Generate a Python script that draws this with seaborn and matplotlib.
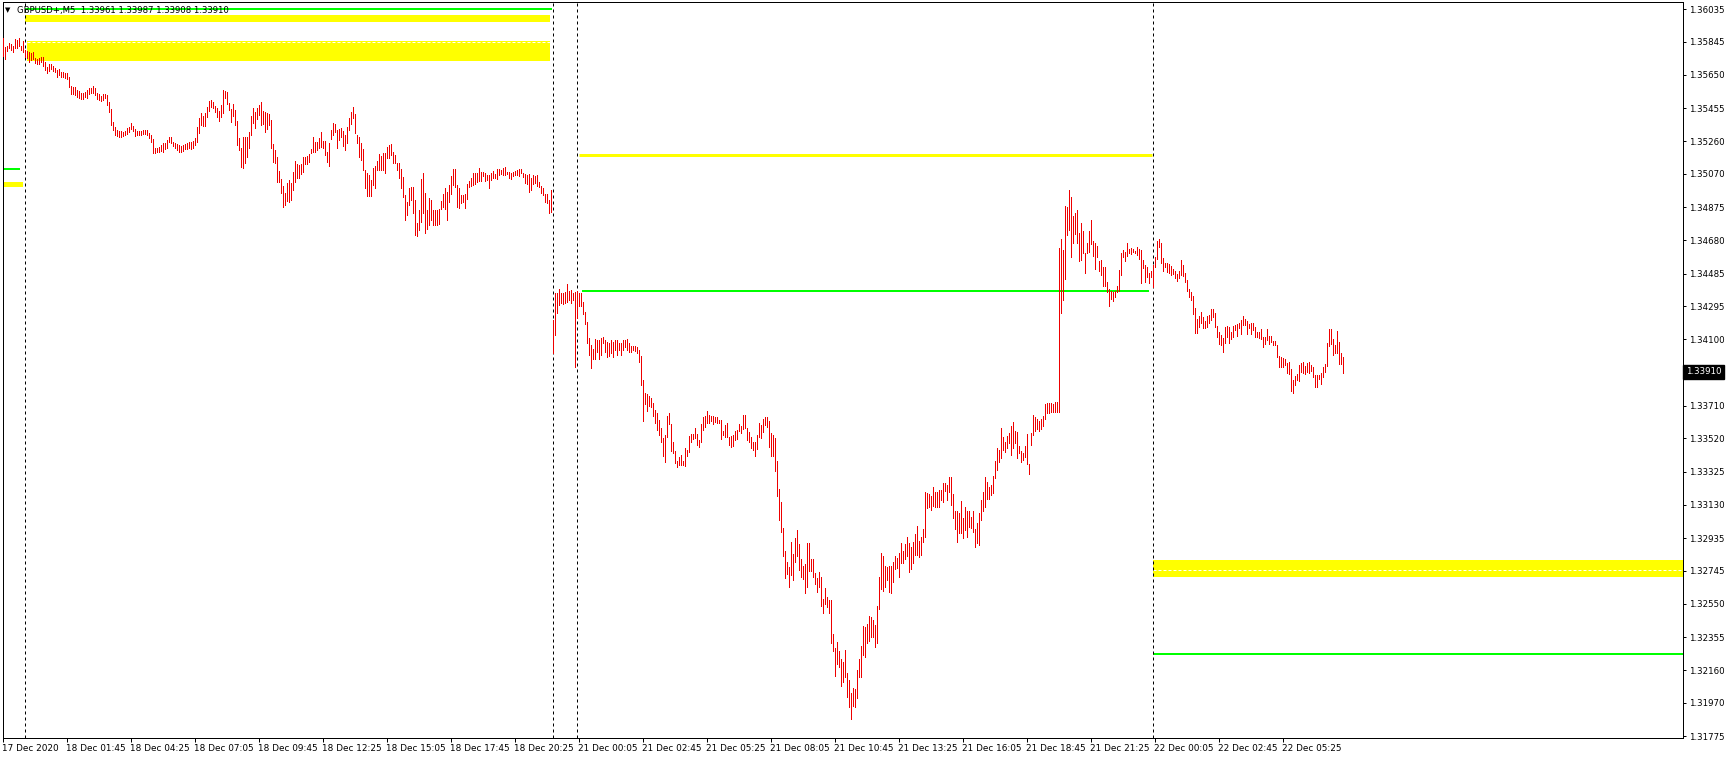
import numpy as np
import pandas as pd
import matplotlib
matplotlib.use("Agg")
import matplotlib.pyplot as plt
import seaborn as sns
from matplotlib.ticker import FixedLocator
import matplotlib.transforms as mtransforms

sns.set_theme(style="white")
plt.rcParams['font.family'] = ['DejaVu Sans']
plt.rcParams['lines.scale_dashes'] = False

# ---------------- data (M5 bars: high / low) ----------------
pre_high = [1.35864,1.35816,1.35821,1.35835,1.35829,1.35821,1.35860,1.35855,1.35864,1.35821,1.35849]
pre_low = [1.35763,1.35741,1.35790,1.35806,1.35796,1.35782,1.35810,1.35806,1.35821,1.35796,1.35786]

fri_high = [1.35796,1.35790,1.35782,1.35776,1.35782,1.35747,1.35741,1.35747,1.35755,1.35757,
1.35728,1.35698,1.35712,1.35712,1.35704,1.35689,1.35679,1.35683,1.35665,1.35665,
1.35659,1.35659,1.35640,1.35585,1.35581,1.35581,1.35562,1.35556,1.35542,1.35542,
1.35548,1.35562,1.35571,1.35571,1.35585,1.35575,1.35542,1.35536,1.35528,1.35536,
1.35536,1.35532,1.35493,1.35450,1.35372,1.35347,1.35327,1.35321,1.35321,1.35317,
1.35321,1.35337,1.35347,1.35366,1.35353,1.35333,1.35321,1.35321,1.35321,1.35327,
1.35327,1.35327,1.35308,1.35298,1.35274,1.35220,1.35224,1.35230,1.35239,1.35249,
1.35249,1.35269,1.35288,1.35288,1.35259,1.35249,1.35243,1.35239,1.35235,1.35239,
1.35243,1.35249,1.35259,1.35259,1.35263,1.35278,1.35347,1.35396,1.35425,1.35411,
1.35425,1.35464,1.35497,1.35503,1.35489,1.35470,1.35458,1.35439,1.35474,1.35562,
1.35556,1.35552,1.35484,1.35450,1.35478,1.35444,1.35380,1.35278,1.35220,1.35288,
1.35288,1.35288,1.35317,1.35411,1.35458,1.35431,1.35458,1.35474,1.35489,1.35439,
1.35435,1.35425,1.35419,1.35386,1.35243,1.35210,1.35171,1.35087,1.35040,1.35001,
1.34956,1.35015,1.35034,1.35015,1.35083,1.35146,1.35126,1.35122,1.35126,1.35171,
1.35171,1.35177,1.35185,1.35216,1.35288,1.35255,1.35255,1.35282,1.35314,1.35263,
1.35263,1.35196,1.35249,1.35327,1.35366,1.35360,1.35327,1.35333,1.35337,1.35323,
1.35298,1.35347,1.35400,1.35430,1.35462,1.35420,1.35298,1.35288,1.35249,1.35214,
1.35093,1.35077,1.35064,1.35034,1.35103,1.35116,1.35148,1.35187,1.35175,1.35191,
1.35191,1.35230,1.35239,1.35245,1.35200,1.35181,1.35136,1.35132,1.35097,1.35054,
1.34946,1.34907,1.34985,1.34995,1.34995,1.34917,1.34784,1.34858,1.35038,1.35073,
1.34956,1.34858,1.34927,1.34917,1.34858,1.34858,1.34858,1.34862,1.34913,1.34952,
1.34985,1.34966,1.35005,1.35058,1.35097,1.35097,1.35005,1.34985,1.34946,1.34946,
1.34952,1.35011,1.35030,1.35044,1.35073,1.35073,1.35073,1.35103,1.35083,1.35083,
1.35077,1.35064,1.35064,1.35073,1.35089,1.35069,1.35097,1.35097,1.35093,1.35103,
1.35109,1.35083,1.35083,1.35077,1.35083,1.35089,1.35093,1.35097,1.35097,1.35077,
1.35069,1.35064,1.35069,1.35044,1.35064,1.35058,1.35064,1.35024,1.34999,1.34985,
1.34952,1.34952,1.34917,1.34976]
fri_low = [1.35757,1.35747,1.35724,1.35737,1.35743,1.35718,1.35712,1.35712,1.35724,1.35704,
1.35679,1.35659,1.35673,1.35685,1.35673,1.35665,1.35640,1.35650,1.35636,1.35640,
1.35630,1.35624,1.35581,1.35536,1.35536,1.35532,1.35523,1.35517,1.35509,1.35509,
1.35523,1.35513,1.35536,1.35542,1.35542,1.35532,1.35509,1.35503,1.35497,1.35503,
1.35513,1.35474,1.35435,1.35357,1.35327,1.35298,1.35294,1.35288,1.35288,1.35294,
1.35298,1.35302,1.35314,1.35333,1.35321,1.35294,1.35298,1.35298,1.35298,1.35302,
1.35302,1.35298,1.35278,1.35259,1.35190,1.35190,1.35196,1.35200,1.35204,1.35200,
1.35216,1.35220,1.35255,1.35249,1.35235,1.35224,1.35210,1.35196,1.35196,1.35204,
1.35216,1.35216,1.35224,1.35216,1.35220,1.35239,1.35259,1.35308,1.35357,1.35353,
1.35353,1.35405,1.35439,1.35464,1.35454,1.35435,1.35405,1.35380,1.35405,1.35425,
1.35517,1.35478,1.35444,1.35376,1.35411,1.35357,1.35239,1.35210,1.35112,1.35106,
1.35132,1.35171,1.35220,1.35298,1.35366,1.35337,1.35392,1.35415,1.35357,1.35360,
1.35314,1.35333,1.35357,1.35220,1.35138,1.35132,1.35024,1.35024,1.34956,1.34878,
1.34888,1.34911,1.34907,1.34917,1.34976,1.35024,1.35044,1.35048,1.35067,1.35083,
1.35126,1.35126,1.35142,1.35190,1.35200,1.35196,1.35210,1.35224,1.35230,1.35220,
1.35181,1.35142,1.35118,1.35274,1.35298,1.35317,1.35224,1.35269,1.35288,1.35233,
1.35210,1.35249,1.35327,1.35360,1.35395,1.35310,1.35249,1.35171,1.35151,1.35093,
1.34985,1.34940,1.34940,1.34940,1.35005,1.34985,1.35093,1.35093,1.35093,1.35093,
1.35077,1.35161,1.35161,1.35181,1.35132,1.35132,1.35093,1.35044,1.34985,1.34933,
1.34800,1.34829,1.34888,1.34917,1.34839,1.34712,1.34706,1.34741,1.34790,1.34839,
1.34726,1.34745,1.34771,1.34800,1.34771,1.34771,1.34771,1.34776,1.34862,1.34874,
1.34862,1.34800,1.34907,1.34952,1.35005,1.34995,1.34874,1.34868,1.34901,1.34907,
1.34868,1.34921,1.34991,1.34999,1.35005,1.35011,1.35024,1.35030,1.35030,1.35058,
1.35030,1.35034,1.34985,1.35034,1.35044,1.35044,1.35038,1.35064,1.35069,1.35064,
1.35064,1.35069,1.35044,1.35038,1.35058,1.35064,1.35064,1.35058,1.35073,1.35050,
1.35015,1.35011,1.34966,1.34976,1.35011,1.35019,1.34999,1.34995,1.34960,1.34946,
1.34907,1.34901,1.34843,1.34849]

sun_high = [1.34214,1.34374,1.34374,1.34393,1.34370,1.34374,1.34380,1.34425,1.34386,1.34390,1.34370,1.34380]
sun_low = [1.34022,1.34126,1.34253,1.34302,1.34315,1.34308,1.34315,1.34321,1.34331,1.34315,1.34331,1.33940]

mon_high = [1.34386,1.34370,1.34374,1.34321,1.34263,1.34204,1.34107,1.34067,1.34042,1.34101,
1.34097,1.34097,1.34107,1.34116,1.34097,1.34087,1.34077,1.34097,1.34087,1.34097,
1.34097,1.34077,1.34077,1.34097,1.34097,1.34101,1.34081,1.34061,1.34061,1.34061,
1.34053,1.34038,1.34003,1.33862,1.33784,1.33780,1.33768,1.33755,1.33726,1.33686,
1.33667,1.33628,1.33579,1.33520,1.33540,1.33651,1.33667,1.33604,1.33501,1.33448,
1.33390,1.33409,1.33423,1.33390,1.33462,1.33452,1.33534,1.33546,1.33546,1.33579,
1.33546,1.33511,1.33604,1.33647,1.33651,1.33683,1.33657,1.33651,1.33651,1.33647,
1.33643,1.33628,1.33628,1.33565,1.33598,1.33608,1.33530,1.33534,1.33540,1.33565,
1.33569,1.33604,1.33593,1.33657,1.33657,1.33579,1.33559,1.33526,1.33501,1.33501,
1.33540,1.33608,1.33598,1.33632,1.33643,1.33643,1.33624,1.33550,1.33540,1.33520,
1.33390,1.33222,1.33149,1.32993,1.32862,1.32798,1.32768,1.32915,1.32843,1.32934,
1.32983,1.32901,1.32811,1.32772,1.32784,1.32905,1.32905,1.32811,1.32811,1.32733,
1.32700,1.32739,1.32710,1.32577,1.32641,1.32593,1.32573,1.32573,1.32374,1.32290,
1.32329,1.32276,1.32225,1.32212,1.32280,1.32143,1.32104,1.32030,1.32055,1.32050,
1.32163,1.32225,1.32303,1.32421,1.32413,1.32432,1.32479,1.32471,1.32456,1.32427,
1.32538,1.32710,1.32850,1.32831,1.32772,1.32768,1.32772,1.32772,1.32798,1.32831,
1.32817,1.32850,1.32909,1.32862,1.32901,1.32944,1.32909,1.32885,1.32915,1.32960,
1.33007,1.32921,1.32944,1.32987,1.33208,1.33198,1.33194,1.33182,1.33233,1.33208,
1.33208,1.33218,1.33218,1.33261,1.33261,1.33247,1.33296,1.33292,1.33194,1.33096,
1.33096,1.33085,1.33155,1.33052,1.33120,1.33096,1.33096,1.33057,1.33096,1.32987,
1.33026,1.33085,1.33159,1.33208,1.33292,1.33266,1.33237,1.33247,1.33300,1.33390,
1.33462,1.33452,1.33579,1.33530,1.33501,1.33534,1.33554,1.33593,1.33618,1.33565,
1.33559,1.33475,1.33448,1.33436,1.33475,1.33546,1.33370,1.33550,1.33657,1.33643,
1.33632,1.33624,1.33632,1.33651,1.33722,1.33729,1.33725,1.33729,1.33722,1.33735,
1.33735,1.34634,1.34687,1.34624,1.34882,1.34878,1.34976,1.34937,1.34823,1.34839,
1.34858,1.34726,1.34780,1.34737,1.34604,1.34667,1.34737,1.34800,1.34679,1.34663,
1.34647,1.34562,1.34565,1.34522,1.34526,1.34438,1.34394,1.34386,1.34380,1.34386,
1.34413,1.34507,1.34608,1.34624,1.34614,1.34667,1.34628,1.34634,1.34628,1.34620,
1.34640,1.34628,1.34624,1.34565,1.34536,1.34526,1.34491,1.34503]
mon_low = [1.34224,1.34296,1.34296,1.34249,1.34190,1.34081,1.34009,1.33931,1.33983,1.33983,
1.34028,1.33983,1.34009,1.34077,1.34028,1.33999,1.34003,1.34018,1.33999,1.34038,
1.34009,1.34038,1.34009,1.34038,1.34057,1.34038,1.34028,1.34028,1.34038,1.34034,
1.34018,1.33970,1.33830,1.33624,1.33722,1.33683,1.33710,1.33706,1.33651,1.33608,
1.33569,1.33540,1.33501,1.33417,1.33384,1.33530,1.33604,1.33448,1.33433,1.33378,
1.33354,1.33364,1.33364,1.33364,1.33358,1.33417,1.33442,1.33501,1.33515,1.33520,
1.33481,1.33472,1.33501,1.33569,1.33589,1.33612,1.33608,1.33624,1.33604,1.33618,
1.33608,1.33612,1.33515,1.33540,1.33530,1.33526,1.33481,1.33472,1.33476,1.33511,
1.33515,1.33565,1.33554,1.33573,1.33579,1.33511,1.33501,1.33462,1.33452,1.33417,
1.33456,1.33530,1.33520,1.33559,1.33598,1.33589,1.33468,1.33417,1.33417,1.33331,
1.33182,1.33042,1.32973,1.32831,1.32700,1.32725,1.32647,1.32720,1.32690,1.32798,
1.32831,1.32749,1.32710,1.32694,1.32616,1.32651,1.32745,1.32745,1.32706,1.32667,
1.32622,1.32647,1.32538,1.32495,1.32550,1.32530,1.32495,1.32323,1.32276,1.32128,
1.32198,1.32178,1.32069,1.32094,1.32124,1.32007,1.31944,1.31874,1.31952,1.31948,
1.31997,1.32120,1.32120,1.32251,1.32237,1.32319,1.32335,1.32354,1.32358,1.32296,
1.32319,1.32518,1.32636,1.32628,1.32651,1.32690,1.32622,1.32612,1.32681,1.32753,
1.32759,1.32710,1.32792,1.32788,1.32811,1.32831,1.32739,1.32753,1.32792,1.32837,
1.32837,1.32827,1.32837,1.32915,1.32944,1.33110,1.33120,1.33100,1.33124,1.33120,
1.33116,1.33120,1.33159,1.33149,1.33214,1.33159,1.33208,1.33130,1.33052,1.32987,
1.32915,1.32964,1.32964,1.32934,1.32983,1.32944,1.33003,1.32993,1.32973,1.32886,
1.32909,1.32895,1.33042,1.33096,1.33116,1.33163,1.33163,1.33188,1.33198,1.33286,
1.33335,1.33384,1.33403,1.33452,1.33442,1.33462,1.33491,1.33423,1.33462,1.33491,
1.33403,1.33436,1.33384,1.33393,1.33409,1.33370,1.33311,1.33481,1.33540,1.33565,
1.33573,1.33565,1.33573,1.33593,1.33632,1.33667,1.33671,1.33677,1.33677,1.33677,
1.33677,1.33677,1.34257,1.34331,1.34452,1.34712,1.34741,1.34585,1.34667,1.34718,
1.34667,1.34562,1.34565,1.34608,1.34487,1.34608,1.34614,1.34659,1.34589,1.34511,
1.34581,1.34503,1.34478,1.34413,1.34413,1.34380,1.34296,1.34335,1.34327,1.34347,
1.34380,1.34386,1.34478,1.34581,1.34562,1.34589,1.34608,1.34601,1.34614,1.34608,
1.34595,1.34569,1.34433,1.34517,1.34438,1.34468,1.34433,1.34468]

tue_high = [1.34536,1.34581,1.34679,1.34687,1.34667,1.34575,1.34550,1.34546,1.34542,1.34530,
1.34511,1.34503,1.34483,1.34503,1.34565,1.34536,1.34491,1.34448,1.34394,1.34380,
1.34355,1.34282,1.34218,1.34237,1.34263,1.34233,1.34210,1.34237,1.34243,1.34276,
1.34276,1.34257,1.34179,1.34146,1.34126,1.34106,1.34171,1.34179,1.34171,1.34146,
1.34179,1.34185,1.34190,1.34198,1.34214,1.34237,1.34218,1.34210,1.34190,1.34198,
1.34194,1.34175,1.34146,1.34146,1.34159,1.34116,1.34116,1.34159,1.34120,1.34120,
1.34093,1.34093,1.34067,1.34003,1.33999,1.33989,1.33983,1.33964,1.33970,1.33925,
1.33862,1.33886,1.33897,1.33950,1.33964,1.33970,1.33944,1.33964,1.33970,1.33950,
1.33940,1.33892,1.33892,1.33892,1.33905,1.33937,1.33956,1.34081,1.34159,1.34159,
1.34101,1.34067,1.34151,1.34087,1.34019,1.33995]
tue_low = [1.34405,1.34522,1.34569,1.34644,1.34550,1.34503,1.34522,1.34497,1.34487,1.34478,
1.34483,1.34458,1.34444,1.34458,1.34478,1.34472,1.34438,1.34386,1.34351,1.34331,
1.34249,1.34140,1.34140,1.34175,1.34198,1.34165,1.34165,1.34175,1.34198,1.34214,
1.34229,1.34175,1.34112,1.34073,1.34067,1.34028,1.34077,1.34112,1.34077,1.34101,
1.34112,1.34155,1.34120,1.34165,1.34132,1.34185,1.34185,1.34132,1.34165,1.34132,
1.34155,1.34116,1.34116,1.34106,1.34101,1.34058,1.34073,1.34097,1.34073,1.34087,
1.34067,1.34067,1.33995,1.33940,1.33937,1.33937,1.33950,1.33901,1.33897,1.33800,
1.33788,1.33833,1.33862,1.33858,1.33911,1.33901,1.33897,1.33911,1.33905,1.33917,
1.33882,1.33819,1.33823,1.33866,1.33839,1.33878,1.33911,1.33944,1.34062,1.34073,
1.34009,1.34022,1.34022,1.33956,1.33956,1.33905]

# session separators (bar index of first bar of each new day)
separator_bars = [11.15, 275.15, 287.15, 575.15]

# x tick labels every 32 bars
x_labels = ["17 Dec 2020", "18 Dec 01:45", "18 Dec 04:25", "18 Dec 07:05", "18 Dec 09:45",
            "18 Dec 12:25", "18 Dec 15:05", "18 Dec 17:45", "18 Dec 20:25", "21 Dec 00:05",
            "21 Dec 02:45", "21 Dec 05:25", "21 Dec 08:05", "21 Dec 10:45", "21 Dec 13:25",
            "21 Dec 16:05", "21 Dec 18:45", "21 Dec 21:25", "22 Dec 00:05", "22 Dec 02:45",
            "22 Dec 05:25"]
y_ticks = [1.36035, 1.35845, 1.35650, 1.35455, 1.35260, 1.35070, 1.34875, 1.34680, 1.34485,
           1.34295, 1.34100, 1.33710, 1.33520, 1.33325, 1.33130, 1.32935, 1.32745, 1.32550,
           1.32355, 1.32160, 1.31970, 1.31775]
last_price = 1.33910
header = "GBPUSD+,M5  1.33961 1.33987 1.33908 1.33910"

# levels: (price, start bar, end bar)
green_levels = [(1.36038, 11.0, 274.5), (1.35099, -0.3, 8.6), (1.34386, 289.3, 573.2), (1.32257, 575.0, 845.0)]
yellow_zones = [(1.35962, 1.36001, 11.2, 273.6, None),
                (1.35733, 1.35851, 11.9, 273.6, 1.35845),
                (1.34993, 1.35024, -0.3, 10.0, None),
                (1.32708, 1.32807, 575.0, 845.0, 1.32747)]
yellow_line = (1.35183, 288.0, 574.5)

# ---------------- figure ----------------
highs = pre_high + fri_high + sun_high + mon_high + tue_high
lows = pre_low + fri_low + sun_low + mon_low + tue_low
df = pd.DataFrame({"bar": np.arange(len(highs)), "high": highs, "low": lows})

W, H = 1729, 759
fig = plt.figure(figsize=(W / 100, H / 100), dpi=100)
fig.patch.set_facecolor("white")
L, R, T, B = 2.5, 1683.0, 1.7, 738.0
ax = fig.add_axes([L / W, (H - B) / H, (R - L) / W, (B - T) / H])
ax.set_facecolor("white")
ax.set_xlim((L - 3) / 2, (R - 3) / 2)
ax.set_ylim(1.31764, 1.36079)

px = 0.72  # one pixel in points

# yellow zones
for lo, hi, x0, x1, mid in yellow_zones:
    ax.fill_between([x0, x1], lo, hi, color="#ffff00", lw=0, zorder=1)
    if mid is not None:
        ax.hlines(mid, x0, x1, color="white", lw=px, linestyles=(0, (3 * px, 2 * px)), zorder=2)
# yellow line
ax.hlines(yellow_line[0], yellow_line[1], yellow_line[2], color="#ffff00", lw=3 * px, zorder=2)
# green levels
for p, x0, x1 in green_levels:
    ax.hlines(p, x0, x1, color="#00ff00", lw=2 * px, zorder=2)

# separators
for s in separator_bars:
    ax.axvline(s, color="black", lw=px, linestyle=(0, (3 * px, 3 * px)), zorder=3)

# price bars
ax.vlines(df["bar"], df["low"], df["high"], color="#ee0000", lw=1.0 * px, zorder=4, antialiased=False)

# axes styling
for sp in ax.spines.values():
    sp.set_color("black")
    sp.set_linewidth(px)
    sp.set_visible(True)

ax.xaxis.set_major_locator(FixedLocator([32 * k for k in range(len(x_labels))]))
ax.set_xticklabels(x_labels, ha="left", fontsize=6.4, color="black")
ax.tick_params(axis="x", direction="out", length=4 * px, width=px, color="black", pad=1.5, bottom=True)
for lab in ax.get_xticklabels():
    lab.set_transform(lab.get_transform() + mtransforms.ScaledTranslation(-1 / 100, 0, fig.dpi_scale_trans))

ax.yaxis.tick_right()
ax.yaxis.set_major_locator(FixedLocator(y_ticks))
ax.set_yticklabels([f"{v:.5f}" for v in y_ticks], fontsize=6.2, color="black")
ax.tick_params(axis="y", direction="out", length=3 * px, width=px, color="black", pad=2, right=True, left=False)
ax.grid(False)

# current price label
ax.annotate(f"{last_price:.5f}", xy=(1, last_price), xycoords=("axes fraction", "data"),
            xytext=(3, 0), textcoords="offset pixels", ha="left", va="center",
            fontsize=6.2, color="white",
            bbox=dict(boxstyle="square,pad=0.3", fc="black", ec="black"), zorder=6)

# header
fig.text(5 / W, 1 - 10.5 / H, "▼", fontsize=5, color="black", va="center", ha="left")
fig.text(17 / W, 1 - 10.5 / H, header, fontsize=6.1, color="black", va="center", ha="left")

fig.savefig("out.png", dpi=100, facecolor="white")
